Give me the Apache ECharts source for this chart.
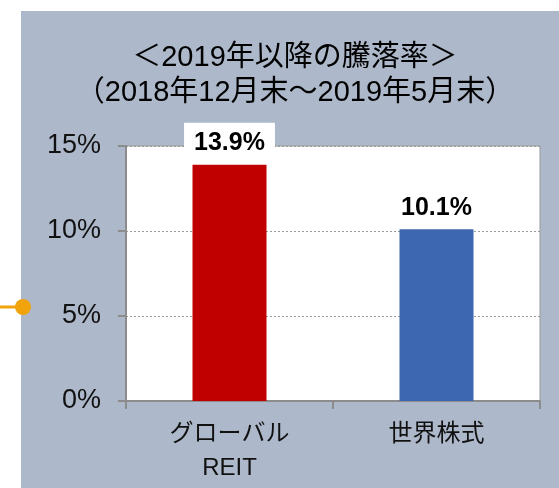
<!DOCTYPE html>
<html>
<head>
<meta charset="utf-8">
<script src="https://cdn.jsdelivr.net/npm/echarts@6/dist/echarts.min.js"></script>
<style>
  html, body { margin: 0; padding: 0; background: #fff; }
  #chart { width: 559px; height: 488px; }
</style>
</head>
<body>
<div id="chart"></div>
<script>
const categories = ['グローバル\nREIT', '世界株式']
const values = [13.9, 10.1]
const barColors = ['#C00000', '#3D67B0']
const yTicks = { min: 0, max: 15, interval: 5 }

const FONT = '"Liberation Sans", Arial, "Noto Sans CJK JP", sans-serif'
const AXIS_GRAY = '#8C8C8C'

const chart = echarts.init(document.getElementById('chart'))

const option = {
  backgroundColor: '#fff',
  // パネル背景とオレンジのマーカー（装飾）
  graphic: [
    { type: 'rect', z: -10, shape: { x: 21, y: 11, width: 538, height: 477 }, style: { fill: '#ADB9CA' } },
    { type: 'line', shape: { x1: 0, y1: 307, x2: 22, y2: 307 }, style: { stroke: '#F0A30A', lineWidth: 3 } },
    { type: 'circle', shape: { cx: 23, cy: 307, r: 8 }, style: { fill: '#F0A30A' } }
  ],
  title: {
    text: '＜2019年以降の騰落率＞\n（2018年12月末～2019年5月末）',
    left: 290,
    top: 35,
    textAlign: 'center',
    textStyle: { fontFamily: FONT, fontSize: 29, fontWeight: 'normal', color: '#000', lineHeight: 35 }
  },
  grid: {
    left: 126, right: 19, top: 146, bottom: 87,
    show: true, backgroundColor: '#fff', borderColor: '#999', borderWidth: 1
  },
  xAxis: {
    type: 'category',
    data: categories,
    axisLine: { lineStyle: { color: AXIS_GRAY, width: 2 } },
    axisTick: { show: true, length: 8, lineStyle: { color: AXIS_GRAY, width: 2 } },
    axisLabel: { fontFamily: FONT, fontSize: 24, color: '#111', lineHeight: 34, margin: 16 }
  },
  yAxis: {
    type: 'value',
    min: yTicks.min, max: yTicks.max, interval: yTicks.interval,
    axisLine: { show: true, lineStyle: { color: AXIS_GRAY, width: 2 } },
    axisTick: { show: true, length: 8, lineStyle: { color: AXIS_GRAY, width: 2 } },
    axisLabel: { formatter: '{value}%', fontFamily: FONT, fontSize: 27, color: '#111', margin: 25 },
    splitLine: { lineStyle: { color: '#999', type: [2, 2], width: 1 } }
  },
  series: [{
    type: 'bar',
    barWidth: 74,
    data: values.map((v, i) => ({ value: v, itemStyle: { color: barColors[i] } })),
    label: {
      show: true,
      position: 'top',
      distance: 9,
      formatter: (p) => p.value.toFixed(1) + '%',
      fontFamily: FONT, fontSize: 25, fontWeight: 'bold', color: '#000',
      backgroundColor: '#fff',
      padding: [8, 10, 0, 10]
    }
  }]
}

chart.setOption(option)
</script>
</body>
</html>
